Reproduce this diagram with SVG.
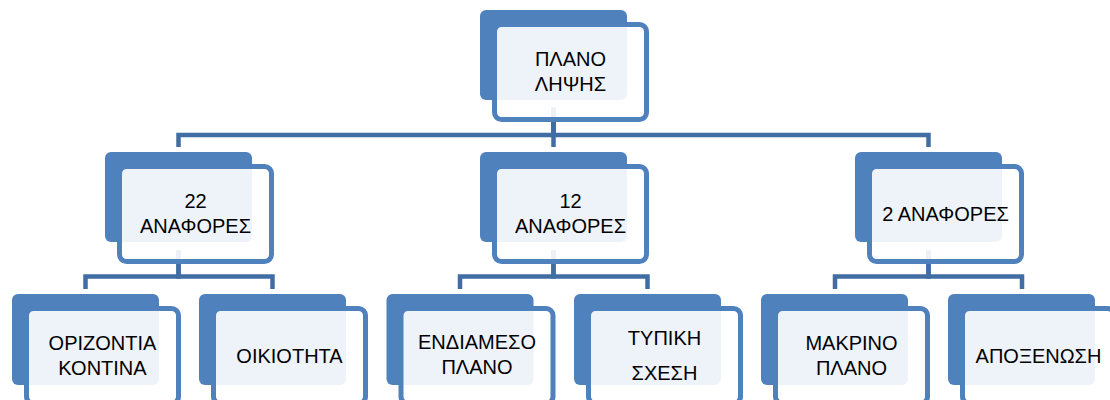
<svg xmlns="http://www.w3.org/2000/svg" width="1110" height="400" viewBox="0 0 1110 400">
<style>
.back{fill:#4F81BD}
.front{fill:#FFFFFF;fill-opacity:0.9;stroke:#4F81BD;stroke-width:5}
.conn{fill:none;stroke:#416DA5;stroke-width:4.5}
text{font-family:"Liberation Sans",Arial,sans-serif;font-size:20px;fill:#000;text-anchor:middle}
</style>
<rect width="1110" height="400" fill="#FFFFFF"/>
<g id="connectors">
<path class="conn" d="M553.5,107 V135 H178.5 V147"/>
<path class="conn" d="M553.5,107 V135 V147"/>
<path class="conn" d="M553.5,107 V135 H928.5 V147"/>
<path class="conn" d="M178.5,250 V276.5 H85.5 V289"/>
<path class="conn" d="M178.5,250 V276.5 H272.5 V289"/>
<path class="conn" d="M553.5,250 V276.5 H460 V289"/>
<path class="conn" d="M553.5,250 V276.5 H647.5 V289"/>
<path class="conn" d="M928.5,250 V276.5 H835 V289"/>
<path class="conn" d="M928.5,250 V276.5 H1022 V289"/>
</g>
<g id="node-top">
<rect class="back" x="480" y="10" width="147" height="90" rx="6"/>
<rect class="front" x="494.5" y="24.5" width="152" height="95" rx="7"/>
<text x="570.5" y="66">ΠΛΑΝΟ</text>
<text x="570.5" y="91">ΛΗΨΗΣ</text>
</g>
<g id="node-22">
<rect class="back" x="105" y="152" width="147" height="90" rx="6"/>
<rect class="front" x="119.5" y="166.5" width="152" height="95" rx="7"/>
<text x="195.5" y="208">22</text>
<text x="195.5" y="233">ΑΝΑΦΟΡΕΣ</text>
</g>
<g id="node-12">
<rect class="back" x="480" y="152" width="147" height="90" rx="6"/>
<rect class="front" x="494.5" y="166.5" width="152" height="95" rx="7"/>
<text x="570.5" y="208">12</text>
<text x="570.5" y="233">ΑΝΑΦΟΡΕΣ</text>
</g>
<g id="node-2">
<rect class="back" x="855" y="152" width="147" height="90" rx="6"/>
<rect class="front" x="869.5" y="166.5" width="152" height="95" rx="7"/>
<text x="945.5" y="221">2 ΑΝΑΦΟΡΕΣ</text>
</g>
<g id="node-orizontia">
<rect class="back" x="12" y="294" width="147" height="91" rx="6"/>
<rect class="front" x="26.5" y="308.5" width="152" height="95" rx="7"/>
<text x="102.5" y="350">ΟΡΙΖΟΝΤΙΑ</text>
<text x="102.5" y="375">ΚΟΝΤΙΝΑ</text>
</g>
<g id="node-oikiotita">
<rect class="back" x="199" y="294" width="147" height="91" rx="6"/>
<rect class="front" x="213.5" y="308.5" width="152" height="95" rx="7"/>
<text x="289.5" y="363">ΟΙΚΙΟΤΗΤΑ</text>
</g>
<g id="node-endiameso">
<rect class="back" x="386.5" y="294" width="147" height="91" rx="6"/>
<rect class="front" x="401" y="308.5" width="152" height="95" rx="7"/>
<text x="477" y="349">ΕΝΔΙΑΜΕΣΟ</text>
<text x="477" y="374">ΠΛΑΝΟ</text>
</g>
<g id="node-typiki">
<rect class="back" x="574" y="294" width="147" height="91" rx="6"/>
<rect class="front" x="588.5" y="308.5" width="152" height="95" rx="7"/>
<text x="664.5" y="345">ΤΥΠΙΚΗ</text>
<text x="664.5" y="380">ΣΧΕΣΗ</text>
</g>
<g id="node-makrino">
<rect class="back" x="761" y="294" width="147" height="91" rx="6"/>
<rect class="front" x="775.5" y="308.5" width="152" height="95" rx="7"/>
<text x="851.5" y="350">ΜΑΚΡΙΝΟ</text>
<text x="851.5" y="375">ΠΛΑΝΟ</text>
</g>
<g id="node-apoxenosi">
<rect class="back" x="948" y="294" width="147" height="91" rx="6"/>
<rect class="front" x="962.5" y="308.5" width="152" height="95" rx="7"/>
<text x="1038.5" y="363">ΑΠΟΞΕΝΩΣΗ</text>
</g>
</svg>
